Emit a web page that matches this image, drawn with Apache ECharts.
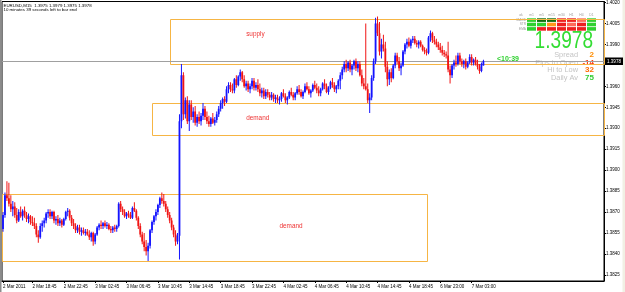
<!DOCTYPE html>
<html><head><meta charset="utf-8">
<script src="https://cdn.jsdelivr.net/npm/echarts@6/dist/echarts.min.js"></script>
<style>html,body{margin:0;padding:0;background:#fff}#c{width:625px;height:292px}</style>
</head><body><div id="c"></div>
<script>
// ---- data (EURUSD M15) ----
const open = [
1.3858,1.3868,1.3882,1.3880,1.3876,1.3872,1.3874,1.3868,1.3864,1.3870,
1.3867,1.3871,1.3868,1.3865,1.3867,1.3863,1.3862,1.3860,1.3854,1.3852,
1.3860,1.3862,1.3864,1.3869,1.3870,1.3867,1.3870,1.3864,1.3865,1.3862,
1.3864,1.3861,1.3865,1.3870,1.3871,1.3866,1.3862,1.3860,1.3857,1.3859,
1.3856,1.3857,1.3855,1.3856,1.3854,1.3852,1.3855,1.3849,1.3854,1.3859,
1.3861,1.3860,1.3862,1.3860,1.3861,1.3858,1.3857,1.3859,1.3858,1.3860,
1.3876,1.3872,1.3870,1.3867,1.3869,1.3868,1.3866,1.3873,1.3871,1.3866,
1.3860,1.3854,1.3849,1.3845,1.3842,1.3846,1.3857,1.3863,1.3867,1.3870,
1.3875,1.3880,1.3878,1.3876,1.3872,1.3868,1.3864,1.3859,1.3854,1.3849,
1.3853,1.3935,1.3968,1.3940,1.3950,1.3935,1.3947,1.3938,1.3942,1.3934,
1.3938,1.3935,1.3939,1.3944,1.3938,1.3935,1.3933,1.3937,1.3934,1.3936,
1.3940,1.3944,1.3948,1.3951,1.3949,1.3958,1.3961,1.3958,1.3957,1.3965,
1.3961,1.3967,1.3970,1.3965,1.3960,1.3962,1.3958,1.3960,1.3964,1.3959,
1.3961,1.3958,1.3955,1.3957,1.3953,1.3956,1.3954,1.3952,1.3954,1.3951,
1.3952,1.3950,1.3951,1.3955,1.3953,1.3950,1.3952,1.3956,1.3954,1.3952,
1.3955,1.3958,1.3956,1.3953,1.3956,1.3960,1.3958,1.3955,1.3957,1.3961,
1.3959,1.3957,1.3955,1.3958,1.3962,1.3960,1.3956,1.3959,1.3963,1.3961,
1.3958,1.3960,1.3964,1.3968,1.3972,1.3976,1.3973,1.3977,1.3972,1.3975,
1.3978,1.3973,1.3976,1.3968,1.3962,1.3960,1.3958,1.3950,1.3952,1.3966,
1.3978,1.4005,1.3998,1.3985,1.3990,1.3987,1.3974,1.3965,1.3970,1.3966,
1.3975,1.3982,1.3978,1.3973,1.3975,1.3985,1.3990,1.3992,1.3989,1.3993,
1.3994,1.3991,1.3990,1.3992,1.3989,1.3986,1.3985,1.3984,1.3995,1.3998,
1.3993,1.3992,1.3990,1.3988,1.3986,1.3984,1.3983,1.3982,1.3972,1.3968,
1.3975,1.3977,1.3976,1.3982,1.3978,1.3976,1.3978,1.3974,1.3977,1.3981,
1.3977,1.3979,1.3976,1.3974,1.3971,1.3975];
const high = [
1.3870,1.3884,1.3892,1.3891,1.3882,1.3878,1.3877,1.3873,1.3872,1.3874,
1.3872,1.3874,1.3870,1.3869,1.3868,1.3867,1.3866,1.3862,1.3857,1.3862,
1.3864,1.3866,1.3870,1.3872,1.3872,1.3871,1.3871,1.3867,1.3868,1.3866,
1.3865,1.3866,1.3871,1.3873,1.3872,1.3868,1.3865,1.3862,1.3861,1.3861,
1.3859,1.3859,1.3858,1.3858,1.3857,1.3856,1.3856,1.3855,1.3860,1.3862,
1.3864,1.3863,1.3864,1.3863,1.3862,1.3860,1.3860,1.3861,1.3861,1.3877,
1.3878,1.3874,1.3872,1.3870,1.3871,1.3870,1.3874,1.3877,1.3872,1.3867,
1.3862,1.3856,1.3855,1.3850,1.3848,1.3858,1.3864,1.3868,1.3872,1.3876,
1.3881,1.3884,1.3883,1.3878,1.3874,1.3870,1.3866,1.3861,1.3857,1.3855,
1.3940,1.3976,1.3970,1.3952,1.3953,1.3950,1.3950,1.3945,1.3946,1.3940,
1.3942,1.3941,1.3948,1.3946,1.3942,1.3939,1.3938,1.3941,1.3938,1.3942,
1.3946,1.3950,1.3952,1.3953,1.3960,1.3963,1.3963,1.3962,1.3966,1.3968,
1.3968,1.3972,1.3971,1.3968,1.3964,1.3964,1.3962,1.3966,1.3966,1.3963,
1.3965,1.3962,1.3959,1.3959,1.3958,1.3958,1.3956,1.3956,1.3955,1.3954,
1.3954,1.3953,1.3956,1.3958,1.3955,1.3953,1.3957,1.3959,1.3956,1.3956,
1.3960,1.3961,1.3958,1.3957,1.3962,1.3963,1.3960,1.3958,1.3962,1.3964,
1.3962,1.3960,1.3959,1.3963,1.3965,1.3962,1.3960,1.3964,1.3966,1.3963,
1.3961,1.3965,1.3970,1.3974,1.3978,1.3979,1.3978,1.3979,1.3976,1.3979,
1.3980,1.3978,1.3978,1.3972,1.3966,1.4005,1.3962,1.3955,1.3968,1.3980,
1.4009,1.4010,1.4006,1.3994,1.3997,1.3992,1.3978,1.3972,1.3973,1.3976,
1.3984,1.3984,1.3981,1.3977,1.3986,1.3991,1.3994,1.3995,1.3994,1.3996,
1.3996,1.3993,1.3993,1.3993,1.3990,1.3988,1.3987,1.3996,1.4000,1.3999,
1.3996,1.3994,1.3992,1.3991,1.3989,1.3986,1.3985,1.3992,1.3975,1.3976,
1.3979,1.3982,1.3984,1.3984,1.3980,1.3979,1.3980,1.3978,1.3983,1.3983,
1.3980,1.3981,1.3979,1.3976,1.3977,1.3979];
const low = [
1.3856,1.3866,1.3878,1.3874,1.3870,1.3867,1.3866,1.3862,1.3863,1.3866,
1.3864,1.3866,1.3863,1.3862,1.3861,1.3860,1.3858,1.3852,1.3848,1.3851,
1.3856,1.3859,1.3862,1.3866,1.3865,1.3865,1.3862,1.3861,1.3860,1.3860,
1.3859,1.3860,1.3864,1.3867,1.3864,1.3860,1.3858,1.3855,1.3855,1.3854,
1.3853,1.3854,1.3853,1.3853,1.3850,1.3849,1.3846,1.3847,1.3853,1.3857,
1.3858,1.3858,1.3859,1.3858,1.3857,1.3855,1.3855,1.3856,1.3856,1.3859,
1.3870,1.3868,1.3866,1.3865,1.3866,1.3865,1.3865,1.3870,1.3864,1.3858,
1.3852,1.3847,1.3842,1.3839,1.3835,1.3844,1.3855,1.3861,1.3864,1.3868,
1.3873,1.3876,1.3874,1.3870,1.3866,1.3862,1.3857,1.3852,1.3846,1.3847,
1.3836,1.3930,1.3936,1.3937,1.3933,1.3928,1.3936,1.3934,1.3932,1.3931,
1.3933,1.3932,1.3936,1.3936,1.3933,1.3931,1.3931,1.3933,1.3932,1.3934,
1.3938,1.3942,1.3944,1.3946,1.3948,1.3955,1.3956,1.3955,1.3955,1.3959,
1.3960,1.3964,1.3963,1.3959,1.3957,1.3956,1.3955,1.3958,1.3957,1.3957,
1.3956,1.3953,1.3952,1.3951,1.3951,1.3952,1.3950,1.3950,1.3949,1.3948,
1.3948,1.3947,1.3949,1.3952,1.3948,1.3947,1.3951,1.3953,1.3950,1.3950,
1.3954,1.3954,1.3952,1.3951,1.3955,1.3957,1.3954,1.3952,1.3956,1.3958,
1.3955,1.3953,1.3953,1.3957,1.3958,1.3955,1.3954,1.3958,1.3959,1.3956,
1.3955,1.3958,1.3958,1.3965,1.3970,1.3970,1.3971,1.3970,1.3968,1.3972,
1.3971,1.3970,1.3967,1.3960,1.3958,1.3957,1.3948,1.3941,1.3950,1.3964,
1.3976,1.3996,1.3982,1.3980,1.3985,1.3970,1.3960,1.3961,1.3963,1.3965,
1.3973,1.3976,1.3971,1.3968,1.3974,1.3983,1.3987,1.3988,1.3987,1.3991,
1.3990,1.3988,1.3987,1.3988,1.3985,1.3983,1.3982,1.3983,1.3992,1.3991,
1.3990,1.3988,1.3986,1.3984,1.3982,1.3981,1.3980,1.3970,1.3962,1.3966,
1.3972,1.3974,1.3975,1.3976,1.3974,1.3973,1.3972,1.3973,1.3976,1.3975,
1.3975,1.3975,1.3972,1.3969,1.3970,1.3975];
const close = [
1.3868,1.3882,1.3880,1.3876,1.3872,1.3874,1.3868,1.3864,1.3870,1.3867,
1.3871,1.3868,1.3865,1.3867,1.3863,1.3862,1.3860,1.3854,1.3852,1.3860,
1.3862,1.3864,1.3869,1.3870,1.3867,1.3870,1.3864,1.3865,1.3862,1.3864,
1.3861,1.3865,1.3870,1.3871,1.3866,1.3862,1.3860,1.3857,1.3859,1.3856,
1.3857,1.3855,1.3856,1.3854,1.3852,1.3855,1.3849,1.3854,1.3859,1.3861,
1.3860,1.3862,1.3860,1.3861,1.3858,1.3857,1.3859,1.3858,1.3860,1.3876,
1.3872,1.3870,1.3867,1.3869,1.3868,1.3866,1.3873,1.3871,1.3866,1.3860,
1.3854,1.3849,1.3845,1.3842,1.3846,1.3857,1.3863,1.3867,1.3870,1.3875,
1.3880,1.3878,1.3876,1.3872,1.3868,1.3864,1.3859,1.3854,1.3849,1.3853,
1.3935,1.3968,1.3940,1.3950,1.3935,1.3947,1.3938,1.3942,1.3934,1.3938,
1.3935,1.3939,1.3944,1.3938,1.3935,1.3933,1.3937,1.3934,1.3936,1.3940,
1.3944,1.3948,1.3951,1.3949,1.3958,1.3961,1.3958,1.3957,1.3965,1.3961,
1.3967,1.3970,1.3965,1.3960,1.3962,1.3958,1.3960,1.3964,1.3959,1.3961,
1.3958,1.3955,1.3957,1.3953,1.3956,1.3954,1.3952,1.3954,1.3951,1.3952,
1.3950,1.3951,1.3955,1.3953,1.3950,1.3952,1.3956,1.3954,1.3952,1.3955,
1.3958,1.3956,1.3953,1.3956,1.3960,1.3958,1.3955,1.3957,1.3961,1.3959,
1.3957,1.3955,1.3958,1.3962,1.3960,1.3956,1.3959,1.3963,1.3961,1.3958,
1.3960,1.3964,1.3968,1.3972,1.3976,1.3973,1.3977,1.3972,1.3975,1.3978,
1.3973,1.3976,1.3968,1.3962,1.3960,1.3958,1.3950,1.3952,1.3966,1.3978,
1.4005,1.3998,1.3985,1.3990,1.3987,1.3974,1.3965,1.3970,1.3966,1.3975,
1.3982,1.3978,1.3973,1.3975,1.3985,1.3990,1.3992,1.3989,1.3993,1.3994,
1.3991,1.3990,1.3992,1.3989,1.3986,1.3985,1.3984,1.3995,1.3998,1.3993,
1.3992,1.3990,1.3988,1.3986,1.3984,1.3983,1.3982,1.3972,1.3968,1.3975,
1.3977,1.3976,1.3982,1.3978,1.3976,1.3978,1.3974,1.3977,1.3981,1.3977,
1.3979,1.3976,1.3974,1.3971,1.3976,1.3978];

// trading sessions (15-minute bars), weekend gap between them
const sessionStarts = ['2011-03-02T15:00:00Z', '2011-03-06T23:00:00Z'];
const sessionBars = [223, 23];

// axis tick labels
const yTicks = [1.3825,1.3840,1.3855,1.3870,1.3885,1.3900,1.3915,1.3930,1.3945,1.3960,1.3990,1.4005,1.4020];
const xTickLabels = ['2 Mar 2011','2 Mar 18:45','2 Mar 22:45','3 Mar 02:45','3 Mar 06:45','3 Mar 10:45','3 Mar 14:45','3 Mar 18:45','3 Mar 22:45','4 Mar 02:45','4 Mar 06:45','4 Mar 10:45','4 Mar 14:45','4 Mar 18:45','6 Mar 23:00','7 Mar 03:00'];

// supply / demand zones (bar index, price); null = extends past the view
const zoneNames = ['supply','demand','demand'];
const zoneFrom = [85, 76, null];
const zoneTo = [null, null, 216];
const zoneTop = [1.4008, 1.3948, 1.3883];
const zoneBottom = [1.3976, 1.3925, 1.3835];
const zoneTextBar = [124, 124, 141];
const zoneTextPrice = [1.3997, 1.3937, 1.3860];

// info panel
const infoNames = ['Spread','Pips to Open','Hi to Low','Daily Av'];
const infoValues = [2, -14, 32, 75];
const timerText = '<10:39';
const subtitle = '10 minutes 39 seconds left to bar end';
const tfNames = ['ok','m1','m5','m15','m30','H1','H4','D1'];
const rowNames = ['MACD','STR','EMA'];
const signals = [
  ['up','up2','up2','dn','dn','dn1','up'],
  ['up','up','mid','dn','dn1','dn','up'],
  ['up','dn','dn','dn','dn','dn','up']];

// ---- build ----
const MONTHS = ['Jan','Feb','Mar','Apr','May','Jun','Jul','Aug','Sep','Oct','Nov','Dec'];
const pad = n => (n < 10 ? '0' : '') + n;
const categories = [];
sessionStarts.forEach((s, k) => {
  const t0 = Date.parse(s);
  for (let j = 0; j < sessionBars[k]; j++) {
    const d = new Date(t0 + j * 900000);
    categories.push(d.getUTCDate() + ' ' + MONTHS[d.getUTCMonth()] + ' ' + pad(d.getUTCHours()) + ':' + pad(d.getUTCMinutes()));
  }
});
const SLOTS = 307; // visible bar slots incl. chart shift
const slots = categories.concat(new Array(SLOTS - categories.length).fill(''));
const tickText = {};
xTickLabels.forEach((lab, k) => {
  const idx = k === 0 ? 0 : categories.indexOf(lab);
  if (idx >= 0) tickText[idx] = lab;
});
const showTick = i => tickText[i] !== undefined;

const last = close.length - 1;
const fmt = v => v.toFixed(4);
const title = 'EURUSD,M15  ' + [open[last], high[last], low[last], close[last]].map(fmt).join(' ');
const bars = open.map((o, i) => [i, o, high[i], low[i], close[i]]);

const FONT = 'Liberation Sans';
const UP = '#1414ff', DN = '#f01414', ZONE = '#f6b544';
const sigColor = {up:'#2fd12f', up2:'#0d6e0d', mid:'#ff9a1a', dn:'#ee2020', dn1:'#ff6a5a'};

const chart = echarts.init(document.getElementById('c'), null, {renderer:'canvas'});

const graphics = [
  {type:'rect', shape:{x:0, y:0, width:1.5, height:292}, style:{fill:'#8c8c8c'}, silent:true},
  {type:'rect', shape:{x:622.5, y:0, width:2.5, height:292}, style:{fill:'#f1f0e4'}, silent:true},
  {type:'text', x:3.5, y:5.8, style:{text:title, fontSize:4.4, fontFamily:FONT, fill:'#000', verticalAlign:'middle'}, silent:true},
  {type:'text', x:3.5, y:10.2, style:{text:subtitle, fontSize:4.4, fontFamily:FONT, fill:'#000', verticalAlign:'middle'}, silent:true},
  {type:'text', x:497, y:59.5, style:{text:timerText, fontSize:7, fontWeight:'bold', fontFamily:FONT, fill:'#2fd12f', verticalAlign:'middle'}, silent:true},
  {type:'text', x:593, y:42, scaleX:0.83, style:{text:fmt(close[last]), fontSize:23, fontFamily:FONT, fill:'#33dd33', align:'right', verticalAlign:'middle'}, silent:true}
];
const infoColors = ['#ff8c00','#ff3a10','#ff6a00','#33cc33'];
const infoY = [55, 62.5, 70, 77.8];
infoNames.forEach((n, k) => {
  graphics.push({type:'text', x:578, y:infoY[k], style:{text:n, fontSize:7.4, fontFamily:FONT, fill:'#c4c4c4', align:'right', verticalAlign:'middle'}, silent:true});
  graphics.push({type:'text', x:594, y:infoY[k], style:{text:String(infoValues[k]), fontSize:8, fontWeight:'bold', fontFamily:FONT, fill:infoColors[k], align:'right', verticalAlign:'middle'}, silent:true});
});
tfNames.forEach((n, c) => {
  const x = c === 0 ? 521 : 527 + (c - 1) * 10 + 4.5;
  graphics.push({type:'text', x:x, y:15.3, style:{text:n, fontSize:3.4, fontFamily:FONT, fill:'#9a9a9a', align:'center', verticalAlign:'middle'}, silent:true});
});
rowNames.forEach((n, r) => {
  graphics.push({type:'text', x:526, y:20.1 + r * 4.4, style:{text:n, fontSize:3.2, fontFamily:FONT, fill:'#9a9a9a', align:'right', verticalAlign:'middle'}, silent:true});
  signals[r].forEach((s, c) => {
    graphics.push({type:'rect', shape:{x:527 + c * 10, y:18.3 + r * 4.4, width:9, height:3.6}, style:{fill:sigColor[s]}, silent:true});
  });
});

chart.setOption({
  animation: false,
  backgroundColor: '#ffffff',
  grid: {left:2, right:21, top:1, bottom:11, show:true, borderColor:'#000', borderWidth:1, backgroundColor:'transparent'},
  xAxis: {
    type:'category', data:slots, boundaryGap:true,
    axisLine:{show:true, lineStyle:{color:'#000', width:1}},
    axisTick:{show:true, alignWithLabel:true, interval:(i)=>showTick(i), length:2, lineStyle:{color:'#000'}},
    axisLabel:{show:true, interval:(i)=>showTick(i), formatter:(v, i)=>tickText[i] || '', align:'left', fontSize:4.5, fontFamily:FONT, color:'#000', margin:3},
    splitLine:{show:false}
  },
  yAxis: {
    type:'value', position:'right', min:1.38207, max:1.40207, scale:true,
    axisLine:{show:true, lineStyle:{color:'#000'}},
    axisTick:{show:true, customValues:yTicks, length:2, lineStyle:{color:'#000'}},
    axisLabel:{show:true, customValues:yTicks, formatter:(v)=>fmt(v), fontSize:4.5, fontFamily:FONT, color:'#000', margin:2},
    splitLine:{show:false}
  },
  series: [
    { // supply / demand rectangles
      type:'custom', z:1, silent:true, clip:true,
      data: zoneTop.map((t, i) => [zoneFrom[i] == null ? 0 : zoneFrom[i], t]),
      encode:{x:0, y:1},
      renderItem:(params, api) => {
        const i = params.dataIndex;
        const cs = params.coordSys;
        const xl = zoneFrom[i] == null ? cs.x : api.coord([zoneFrom[i], zoneTop[i]])[0];
        const xr = zoneTo[i] == null ? cs.x + cs.width : api.coord([zoneTo[i], zoneTop[i]])[0];
        const yt = api.coord([0, zoneTop[i]])[1];
        const yb = api.coord([0, zoneBottom[i]])[1];
        const tp = api.coord([zoneTextBar[i], zoneTextPrice[i]]);
        return {type:'group', children:[
          {type:'rect', shape:{x:Math.round(xl) + 0.5, y:Math.round(yt) + 0.5, width:Math.round(xr - xl), height:Math.round(yb - yt)}, style:{fill:'none', stroke:ZONE, lineWidth:1}},
          {type:'text', x:tp[0], y:tp[1], style:{text:zoneNames[i], fill:'#ee3434', fontSize:6.4, fontFamily:FONT, align:'left', verticalAlign:'middle'}}
        ]};
      }
    },
    { // bid line + price label
      type:'custom', z:2, silent:true, clip:false,
      data:[[last, close[last]]],
      encode:{x:0, y:1},
      renderItem:(params, api) => {
        const cs = params.coordSys;
        const y = Math.round(api.coord([api.value(0), api.value(1)])[1]) + 0.5;
        return {type:'group', children:[
          {type:'line', shape:{x1:cs.x, y1:y, x2:cs.x + cs.width, y2:y}, style:{stroke:'#a0a0a0', lineWidth:1}},
          {type:'rect', shape:{x:cs.x + cs.width + 1, y:y - 4, width:18, height:7.5}, style:{fill:'#000'}},
          {type:'text', x:cs.x + cs.width + 10, y:y - 0.2, style:{text:fmt(api.value(1)), fill:'#fff', fontSize:4.5, fontFamily:FONT, align:'center', verticalAlign:'middle'}}
        ]};
      }
    },
    { // candles
      type:'custom', z:3, silent:true, clip:true,
      data:bars,
      encode:{x:0, y:[1,2,3,4]},
      renderItem:(params, api) => {
        const i = api.value(0), o = api.value(1), h = api.value(2), l = api.value(3), c = api.value(4);
        const pH = api.coord([i, h]), pL = api.coord([i, l]);
        const pO = api.coord([i, o]), pC = api.coord([i, c]);
        const col = c >= o ? UP : DN;
        const cx = pH[0];
        const top = Math.min(pO[1], pC[1]), bot = Math.max(pO[1], pC[1]);
        return {type:'group', children:[
          {type:'rect', shape:{x:cx - 0.5, y:pH[1], width:1, height:Math.max(1, pL[1] - pH[1])}, style:{fill:col}},
          {type:'rect', shape:{x:cx - 0.9, y:top, width:1.8, height:Math.max(1, bot - top)}, style:{fill:col}}
        ]};
      }
    }
  ],
  graphic: graphics
});
</script>
</body></html>
